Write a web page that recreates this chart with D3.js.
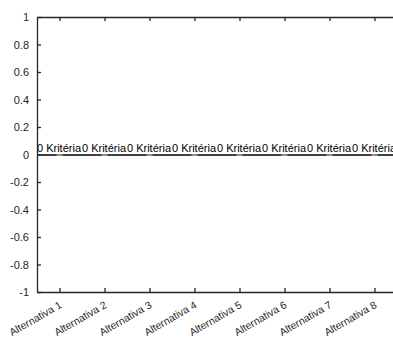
<!DOCTYPE html>
<html><head><meta charset="utf-8">
<script src="https://cdn.jsdelivr.net/npm/d3@7"></script>
<style>body{margin:0;background:#fff}svg{display:block}text{font-family:Arial,"Liberation Sans",Helvetica,sans-serif}</style>
</head><body>
<svg id="c" width="393" height="338"></svg>
<script>
const categories = ["Alternativa 1","Alternativa 2","Alternativa 3","Alternativa 4","Alternativa 5","Alternativa 6","Alternativa 7","Alternativa 8"];
const values = [0,0,0,0,0,0,0,0];
const pointLabels = ["0 Kritéria","0 Kritéria","0 Kritéria","0 Kritéria","0 Kritéria","0 Kritéria","0 Kritéria","0 Kritéria"];
const yTicks = [-1,-0.8,-0.6,-0.4,-0.2,0,0.2,0.4,0.6,0.8,1];
const yTickLabels = ["-1","-0.8","-0.6","-0.4","-0.2","0","0.2","0.4","0.6","0.8","1"];

const svg = d3.select("#c");
const L = 37, T = 17, B = 292;
const x = d3.scaleLinear().domain([0.5, 8.5]).range([L, L + 8*45]);
const y = d3.scaleLinear().domain([-1, 1]).range([B, T]);
const idx = categories.map((d,i)=>i+1);

// zero line
svg.append("line").attr("x1", L).attr("x2", 393).attr("y1", y(0)+0.5).attr("y2", y(0)+0.5)
  .attr("stroke","#000").attr("stroke-width",1.3);
svg.selectAll(".gap").data(values).join("line")
  .attr("x1",(d,i)=>x(i+1)-3).attr("x2",(d,i)=>x(i+1)+3)
  .attr("y1",d=>y(d)+0.5).attr("y2",d=>y(d)+0.5)
  .attr("stroke","#bbb").attr("stroke-width",1.3);

// texts
svg.selectAll(".lbl").data(values).join("text")
  .attr("x",(d,i)=>x(i+0.5)).attr("y",d=>y(d)-2.5)
  .attr("font-size",11).attr("fill","#000")
  .text((d,i)=>pointLabels[i]);

// axes
const yAx = d3.axisLeft(y).tickValues(yTicks).tickSizeInner(-4).tickSizeOuter(0).tickPadding(8)
  .tickFormat((d,i)=>yTickLabels[i]);
const gy = svg.append("g").attr("transform",`translate(${L},0)`).call(yAx);
gy.selectAll("text").attr("font-size",11).attr("fill","#262626");

const xAx = d3.axisBottom(x).tickValues(idx).tickSizeInner(-4).tickSizeOuter(0).tickFormat("");
const gx = svg.append("g").attr("transform",`translate(0,${B})`).call(xAx);
const xTop = d3.axisTop(x).tickValues(idx).tickSizeInner(-4).tickSizeOuter(0).tickFormat("");
const gt = svg.append("g").attr("transform",`translate(0,${T})`).call(xTop);
[gx,gy,gt].forEach(g=>{g.selectAll("path,line").attr("stroke","#262626").attr("stroke-width",1.3);});

svg.selectAll(".xl").data(categories).join("text")
  .attr("transform",(d,i)=>`translate(${x(i+1)+3},${B+15}) rotate(-30)`)
  .attr("text-anchor","end").attr("font-size",10.5).attr("fill","#262626")
  .text(d=>d);
</script>
</body></html>
